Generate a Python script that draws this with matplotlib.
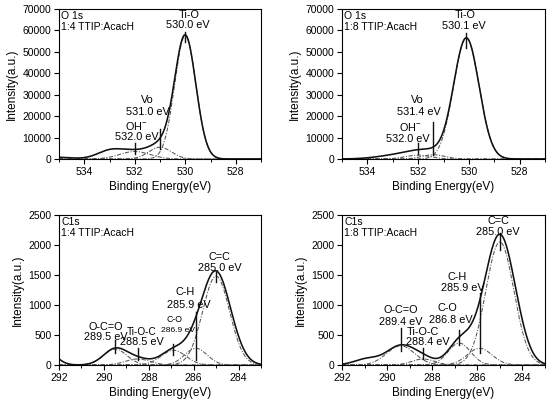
import numpy as np
import matplotlib
matplotlib.use("Agg")
import matplotlib.pyplot as plt
from matplotlib.ticker import MultipleLocator

plt.rcParams['font.family'] = ['Liberation Sans', 'DejaVu Sans']
plt.rcParams['mathtext.fontset'] = 'custom'
plt.rcParams['mathtext.rm'] = 'Liberation Sans'
plt.rcParams['mathtext.it'] = 'Liberation Sans:italic'

# ---------------- data (fitted peak components) ----------------
# O 1s, 1:4 TTIP:AcacH
o14_names = ['Ti-O', 'Vo', 'OH$^{-}$']
o14_energy = ['530.0 eV', '531.0 eV', '532.0 eV']
o14_center = [530.0, 531.0, 532.0]
o14_height = [57500, 5500, 3500]
o14_sigma = [0.42, 0.45, 0.60]
o14_bg_center = [533.0, 535.5]
o14_bg_height = [3600, 1000]
o14_bg_sigma = [0.50, 0.80]
o14_mark_lo = [54800, 4800, 2200]
o14_mark_hi = [59100, 14200, 7500]

# O 1s, 1:8 TTIP:AcacH
o18_names = ['Ti-O', 'Vo', 'OH$^{-}$']
o18_energy = ['530.1 eV', '531.4 eV', '532.0 eV']
o18_center = [530.1, 531.4, 532.0]
o18_height = [56500, 2000, 1800]
o18_sigma = [0.50, 0.45, 0.50]
o18_bg_center = [532.6]
o18_bg_height = [2200]
o18_bg_sigma = [0.85]
o18_mark_lo = [51700, 1700, 2200]
o18_mark_hi = [58700, 17300, 7500]

# C1s, 1:4 TTIP:AcacH
c14_names = ['C=C', 'C-H', 'C-O', 'Ti-O-C', 'O-C=O']
c14_energy = ['285.0 eV', '285.9 eV', '286.9 eV', '288.5 eV', '289.5 eV']
c14_center = [285.0, 285.9, 286.9, 288.5, 289.5]
c14_height = [1480, 278, 245, 100, 265]
c14_sigma = [0.60, 0.50, 0.55, 0.55, 0.52]
c14_bg_center = [292.6, 284.2]
c14_bg_height = [250, 120]
c14_bg_sigma = [0.45, 0.50]
c14_mark_lo = [1390, 83, 167, 83, 194]
c14_mark_hi = [1556, 890, 350, 278, 417]

# C1s, 1:8 TTIP:AcacH
c18_names = ['C=C', 'C-H', 'C-O', 'Ti-O-C', 'O-C=O']
c18_energy = ['285.0 eV', '285.9 eV', '286.8 eV', '288.4 eV', '289.4 eV']
c18_center = [285.0, 285.9, 286.8, 288.4, 289.4]
c18_height = [2050, 278, 365, 100, 320]
c18_sigma = [0.62, 0.55, 0.50, 0.50, 0.62]
c18_bg_center = [290.9, 284.2]
c18_bg_height = [100, 200]
c18_bg_sigma = [0.55, 0.50]
c18_mark_lo = [1917, 194, 333, 94, 239]
c18_mark_hi = [2194, 1194, 583, 278, 611]

# ---------------- layout (label positions / sizes, not data) ----------------
o14_lab = dict(x=[529.83, 531.5, 531.95], yn=[67300, 27500, 15300],
               xe=[529.89, 531.5, 531.9], ye=[62600, 22000, 10300])
o18_lab = dict(x=[530.13, 532.02, 532.33], yn=[67300, 27500, 14700],
               xe=[530.18, 531.97, 532.4], ye=[61900, 22000, 9500])
c14_lab = dict(x=[284.83, 286.39, 286.85, 288.32, 289.92], yn=[1794, 1222, 750, 556, 628],
               xe=[284.83, 286.22, 286.72, 288.3, 289.92], ye=[1611, 1000, 572, 389, 461],
               fs={2: (6.3, 6.1), 3: (7.2, 7.8)})
c18_lab = dict(x=[285.08, 286.89, 287.33, 288.41, 289.38], yn=[2406, 1461, 944, 556, 917],
               xe=[285.08, 286.64, 287.16, 288.19, 289.38], ye=[2211, 1278, 750, 378, 722])

fig = plt.figure(figsize=(5.5, 4.03), dpi=100)
W, H = 550.0, 403.0


def add_axes(left_px, top_px, right_px, bottom_px):
    return fig.add_axes([left_px / W, (H - bottom_px) / H,
                         (right_px - left_px) / W, (bottom_px - top_px) / H])


def gauss(x, c, h, s):
    return h * np.exp(-(x - c) ** 2 / (2 * s ** 2))


def panel(ax, xlim, ylim, ystep, title1, title2, names, energy, center, height, sigma,
          bgc, bgh, bgs, mlo, mhi, lab):
    x = np.linspace(xlim[0], xlim[1], 800)
    comps = [gauss(x, c, h, s) for c, h, s in zip(center, height, sigma)]
    bgs_ = [gauss(x, c, h, s) for c, h, s in zip(bgc, bgh, bgs)]
    env = np.sum(comps, axis=0) + np.sum(bgs_, axis=0)
    for comp in comps:
        ax.plot(x, comp, color='#555555', lw=0.75, ls=(0, (4, 1.5, 1, 1.5)))
    ax.plot(x, env, color='#111111', lw=1.15)
    for c, lo, hi in zip(center, mlo, mhi):
        ax.plot([c, c], [lo, hi], color='#111111', lw=1.0)
    fsd = lab.get('fs', {})
    for i, (n, e) in enumerate(zip(names, energy)):
        fn, fe = fsd.get(i, (7.8, 7.8))
        ax.text(lab['x'][i], lab['yn'][i], n, ha='center', va='center', fontsize=fn)
        ax.text(lab['xe'][i], lab['ye'][i], e, ha='center', va='center', fontsize=fe)
    ax.set_xlim(*xlim)
    ax.set_ylim(*ylim)
    ax.yaxis.set_major_locator(MultipleLocator(ystep))
    ax.xaxis.set_major_locator(MultipleLocator(2))
    ax.xaxis.set_minor_locator(MultipleLocator(1))
    ax.tick_params(which='major', direction='out', length=3.5, width=0.8, labelsize=7.5, pad=2)
    ax.tick_params(which='minor', direction='out', length=2, width=0.7)
    for sp in ax.spines.values():
        sp.set_linewidth(0.8)
    ax.set_xlabel('Binding Energy(eV)', fontsize=8.5, labelpad=3)
    ax.set_ylabel('Intensity(a.u.)', fontsize=8.5, labelpad=3)
    ax.text(0.012, 0.955, title1, transform=ax.transAxes, fontsize=7.5, va='center', ha='left')
    ax.text(0.012, 0.88, title2, transform=ax.transAxes, fontsize=7.5, va='center', ha='left')


ax1 = add_axes(59, 9, 261, 159)
panel(ax1, (535, 527), (0, 70000), 10000, 'O 1s', '1:4 TTIP:AcacH',
      o14_names, o14_energy, o14_center, o14_height, o14_sigma,
      o14_bg_center, o14_bg_height, o14_bg_sigma, o14_mark_lo, o14_mark_hi, o14_lab)

ax2 = add_axes(342, 9, 545, 159)
panel(ax2, (535, 527), (0, 70000), 10000, 'O 1s', '1:8 TTIP:AcacH',
      o18_names, o18_energy, o18_center, o18_height, o18_sigma,
      o18_bg_center, o18_bg_height, o18_bg_sigma, o18_mark_lo, o18_mark_hi, o18_lab)

ax3 = add_axes(59, 215, 261, 365)
panel(ax3, (292, 283), (0, 2500), 500, 'C1s', '1:4 TTIP:AcacH',
      c14_names, c14_energy, c14_center, c14_height, c14_sigma,
      c14_bg_center, c14_bg_height, c14_bg_sigma, c14_mark_lo, c14_mark_hi, c14_lab)

ax4 = add_axes(342, 215, 545, 365)
panel(ax4, (292, 283), (0, 2500), 500, 'C1s', '1:8 TTIP:AcacH',
      c18_names, c18_energy, c18_center, c18_height, c18_sigma,
      c18_bg_center, c18_bg_height, c18_bg_sigma, c18_mark_lo, c18_mark_hi, c18_lab)

fig.savefig('out.png', dpi=100, facecolor='white')
